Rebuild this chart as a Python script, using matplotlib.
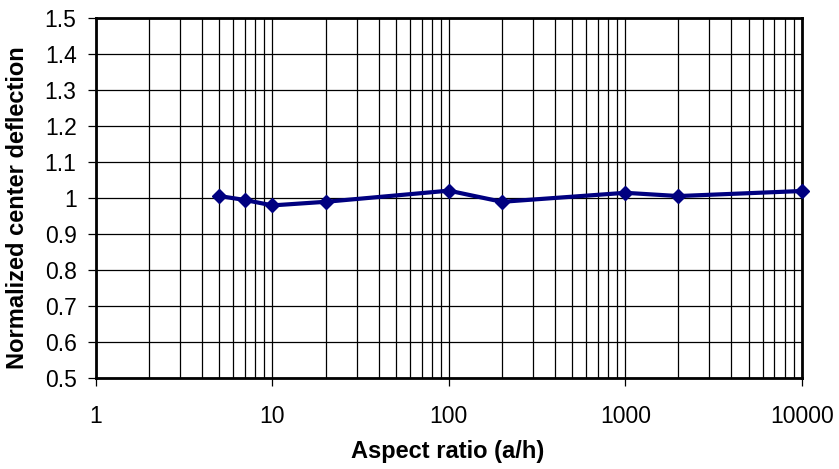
import matplotlib
matplotlib.use("Agg")
import matplotlib.pyplot as plt
from matplotlib.ticker import FixedLocator, LogLocator, NullFormatter, FixedFormatter

plt.rcParams['font.family'] = ['Liberation Sans', 'DejaVu Sans']

# Aspect ratio vs normalized center deflection
aspect_ratio = [5, 7, 10, 20, 100, 200, 1000, 2000, 10000]
deflection = [1.005, 0.994, 0.979, 0.989, 1.020, 0.989, 1.014, 1.005, 1.019]

x_ticks = [1, 10, 100, 1000, 10000]
x_tick_labels = ["1", "10", "100", "1000", "10000"]
y_ticks = [0.5, 0.6, 0.7, 0.8, 0.9, 1.0, 1.1, 1.2, 1.3, 1.4, 1.5]
y_tick_labels = ["0.5", "0.6", "0.7", "0.8", "0.9", "1", "1.1", "1.2", "1.3", "1.4", "1.5"]

W, H = 839, 469
fig = plt.figure(figsize=(W / 100, H / 100), dpi=100)
ax = fig.add_axes([96 / W, 1 - 377.7 / H, (801.7 - 96) / W, (377.7 - 18) / H])

ax.set_xscale('log')
ax.set_xlim(1, 10000)
ax.set_ylim(0.5, 1.5)

ax.xaxis.set_major_locator(FixedLocator(x_ticks))
ax.xaxis.set_major_formatter(FixedFormatter(x_tick_labels))
ax.xaxis.set_minor_locator(LogLocator(base=10, subs=range(2, 10)))
ax.xaxis.set_minor_formatter(NullFormatter())
ax.yaxis.set_major_locator(FixedLocator(y_ticks))
ax.yaxis.set_major_formatter(FixedFormatter(y_tick_labels))

ax.grid(True, which='both', axis='x', color='black', linewidth=0.9)
ax.grid(True, which='major', axis='y', color='black', linewidth=0.9)
ax.set_axisbelow(True)

ax.plot(aspect_ratio, deflection, color='#000080', linewidth=3,
        marker='D', markersize=7, markerfacecolor='#000080',
        markeredgecolor='#000080', zorder=3, clip_on=False)

for s in ax.spines.values():
    s.set_linewidth(2)
    s.set_color('black')

ax.tick_params(axis='both', which='major', direction='out', length=6,
               width=0.9, color='black', labelsize=16.5)
ax.tick_params(axis='x', which='minor', length=0)
ax.tick_params(axis='x', which='major', pad=14)
ax.tick_params(axis='y', which='major', pad=8)

fig.text(448 / W, 1 - 451 / H, 'Aspect ratio (a/h)', fontsize=17,
         fontweight='bold', ha='center', va='center')
fig.text(18 / W, 1 - 207.5 / H, 'Normalized center deflection', fontsize=17,
         fontweight='bold', rotation=90, ha='center', va='center')

fig.savefig('out.png', dpi=100)
